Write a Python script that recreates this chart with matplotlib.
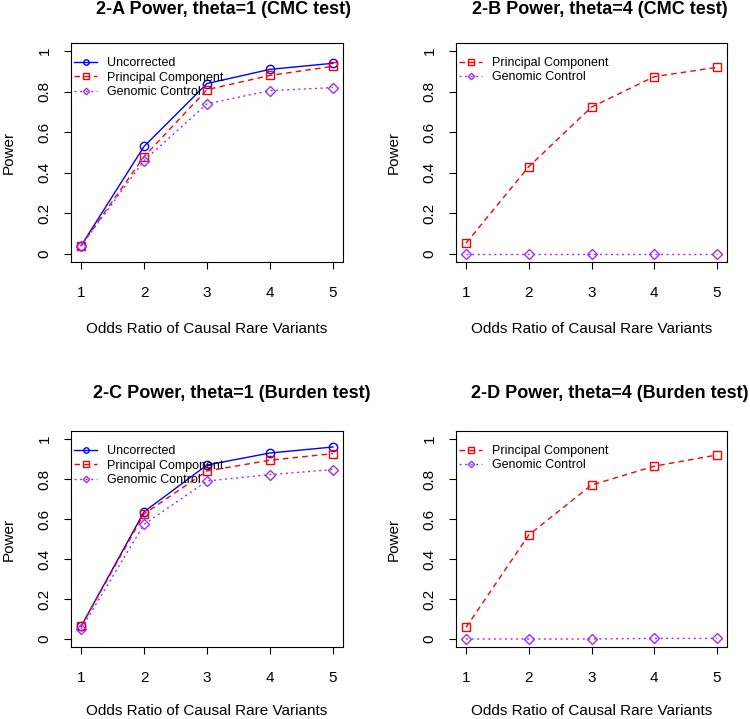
import matplotlib
matplotlib.use("Agg")
from matplotlib import pyplot as plt

plt.rcParams["font.family"] = ["Liberation Sans", "DejaVu Sans"]

odds = [1, 2, 3, 4, 5]

# 2-A CMC test, theta=1
cmc1_unc = [0.04, 0.53, 0.84, 0.91, 0.94]
cmc1_pc = [0.04, 0.48, 0.81, 0.88, 0.925]
cmc1_gc = [0.04, 0.46, 0.74, 0.805, 0.82]

# 2-B CMC test, theta=4
cmc4_pc = [0.053, 0.43, 0.724, 0.874, 0.92]
cmc4_gc = [0.0, 0.0, 0.0, 0.0, 0.0]

# 2-C Burden test, theta=1
bur1_unc = [0.063, 0.636, 0.87, 0.93, 0.96]
bur1_pc = [0.063, 0.625, 0.84, 0.894, 0.927]
bur1_gc = [0.05, 0.573, 0.79, 0.822, 0.847]

# 2-D Burden test, theta=4
bur4_pc = [0.058, 0.52, 0.77, 0.864, 0.92]
bur4_gc = [0.0, 0.0, 0.0, 0.003, 0.003]

titles = [
    "2-A Power, theta=1 (CMC test)",
    "2-B Power, theta=4 (CMC test)",
    "2-C Power, theta=1 (Burden test)",
    "2-D Power, theta=4 (Burden test)",
]

BLUE = "#0000FF"
RED = "#FF0000"
PURPLE = "#9B30FF"

styles = {
    "Uncorrected": dict(color=BLUE, linestyle="-", marker="o"),
    "Principal Component": dict(color=RED, linestyle=(0, (4, 3)), marker="s"),
    "Genomic Control": dict(color=PURPLE, linestyle=(0, (1.5, 2.5)), marker="D"),
}

fig = plt.figure(figsize=(7.5, 7.19), dpi=100)

W, H = 750.0, 719.0
# axes boxes in pixels: left, top, right, bottom
boxes = [
    (71, 43, 343, 262),
    (456, 43, 727, 262),
    (71, 431, 343, 647),
    (456, 431, 727, 647),
]
title_pos = [(223, 10), (600, 10), (232, 393), (610, 393)]

panels = [
    [("Uncorrected", cmc1_unc), ("Principal Component", cmc1_pc), ("Genomic Control", cmc1_gc)],
    [("Principal Component", cmc4_pc), ("Genomic Control", cmc4_gc)],
    [("Uncorrected", bur1_unc), ("Principal Component", bur1_pc), ("Genomic Control", bur1_gc)],
    [("Principal Component", bur4_pc), ("Genomic Control", bur4_gc)],
]

for i, series in enumerate(panels):
    l, t, r, b = boxes[i]
    ax = fig.add_axes([l / W, 1 - b / H, (r - l) / W, (b - t) / H])
    for name, vals in series:
        st = styles[name]
        ms = 6 if st["marker"] != "D" else 5
        ax.plot(odds, vals, label=name, color=st["color"], linestyle=st["linestyle"],
                marker=st["marker"], markersize=ms, markerfacecolor="none",
                markeredgewidth=1.0, linewidth=1.0)
    ax.set_xlim(0.84, 5.16)
    ax.set_ylim(-0.04, 1.04)
    ax.set_xticks(odds)
    ax.set_yticks([0, 0.2, 0.4, 0.6, 0.8, 1])
    ax.set_yticklabels(["0", "0.2", "0.4", "0.6", "0.8", "1"], rotation=90, va="center")
    ax.tick_params(direction="out", length=5, width=0.8, labelsize=11, pad=9)
    ax.tick_params(axis="x", pad=12)
    for sp in ax.spines.values():
        sp.set_linewidth(0.8)
    ax.set_xlabel("Odds Ratio of Causal Rare Variants", fontsize=11,
                  labelpad=16 if i < 2 else 14)
    ax.set_ylabel("Power", fontsize=11, labelpad=16)
    ax.legend(loc="upper left", bbox_to_anchor=(3.0 / (r - l), 1 - 14.0 / (b - t)),
              frameon=False, fontsize=9, handlelength=1.85,
              borderaxespad=0, borderpad=0, labelspacing=0.2,
              handletextpad=0.8, markerscale=0.65)
    tx, ty = title_pos[i]
    fig.text(tx / W, 1 - ty / H, titles[i], ha="center", va="center",
             fontsize=13, fontweight="bold")

fig.savefig("out.png", dpi=100)
